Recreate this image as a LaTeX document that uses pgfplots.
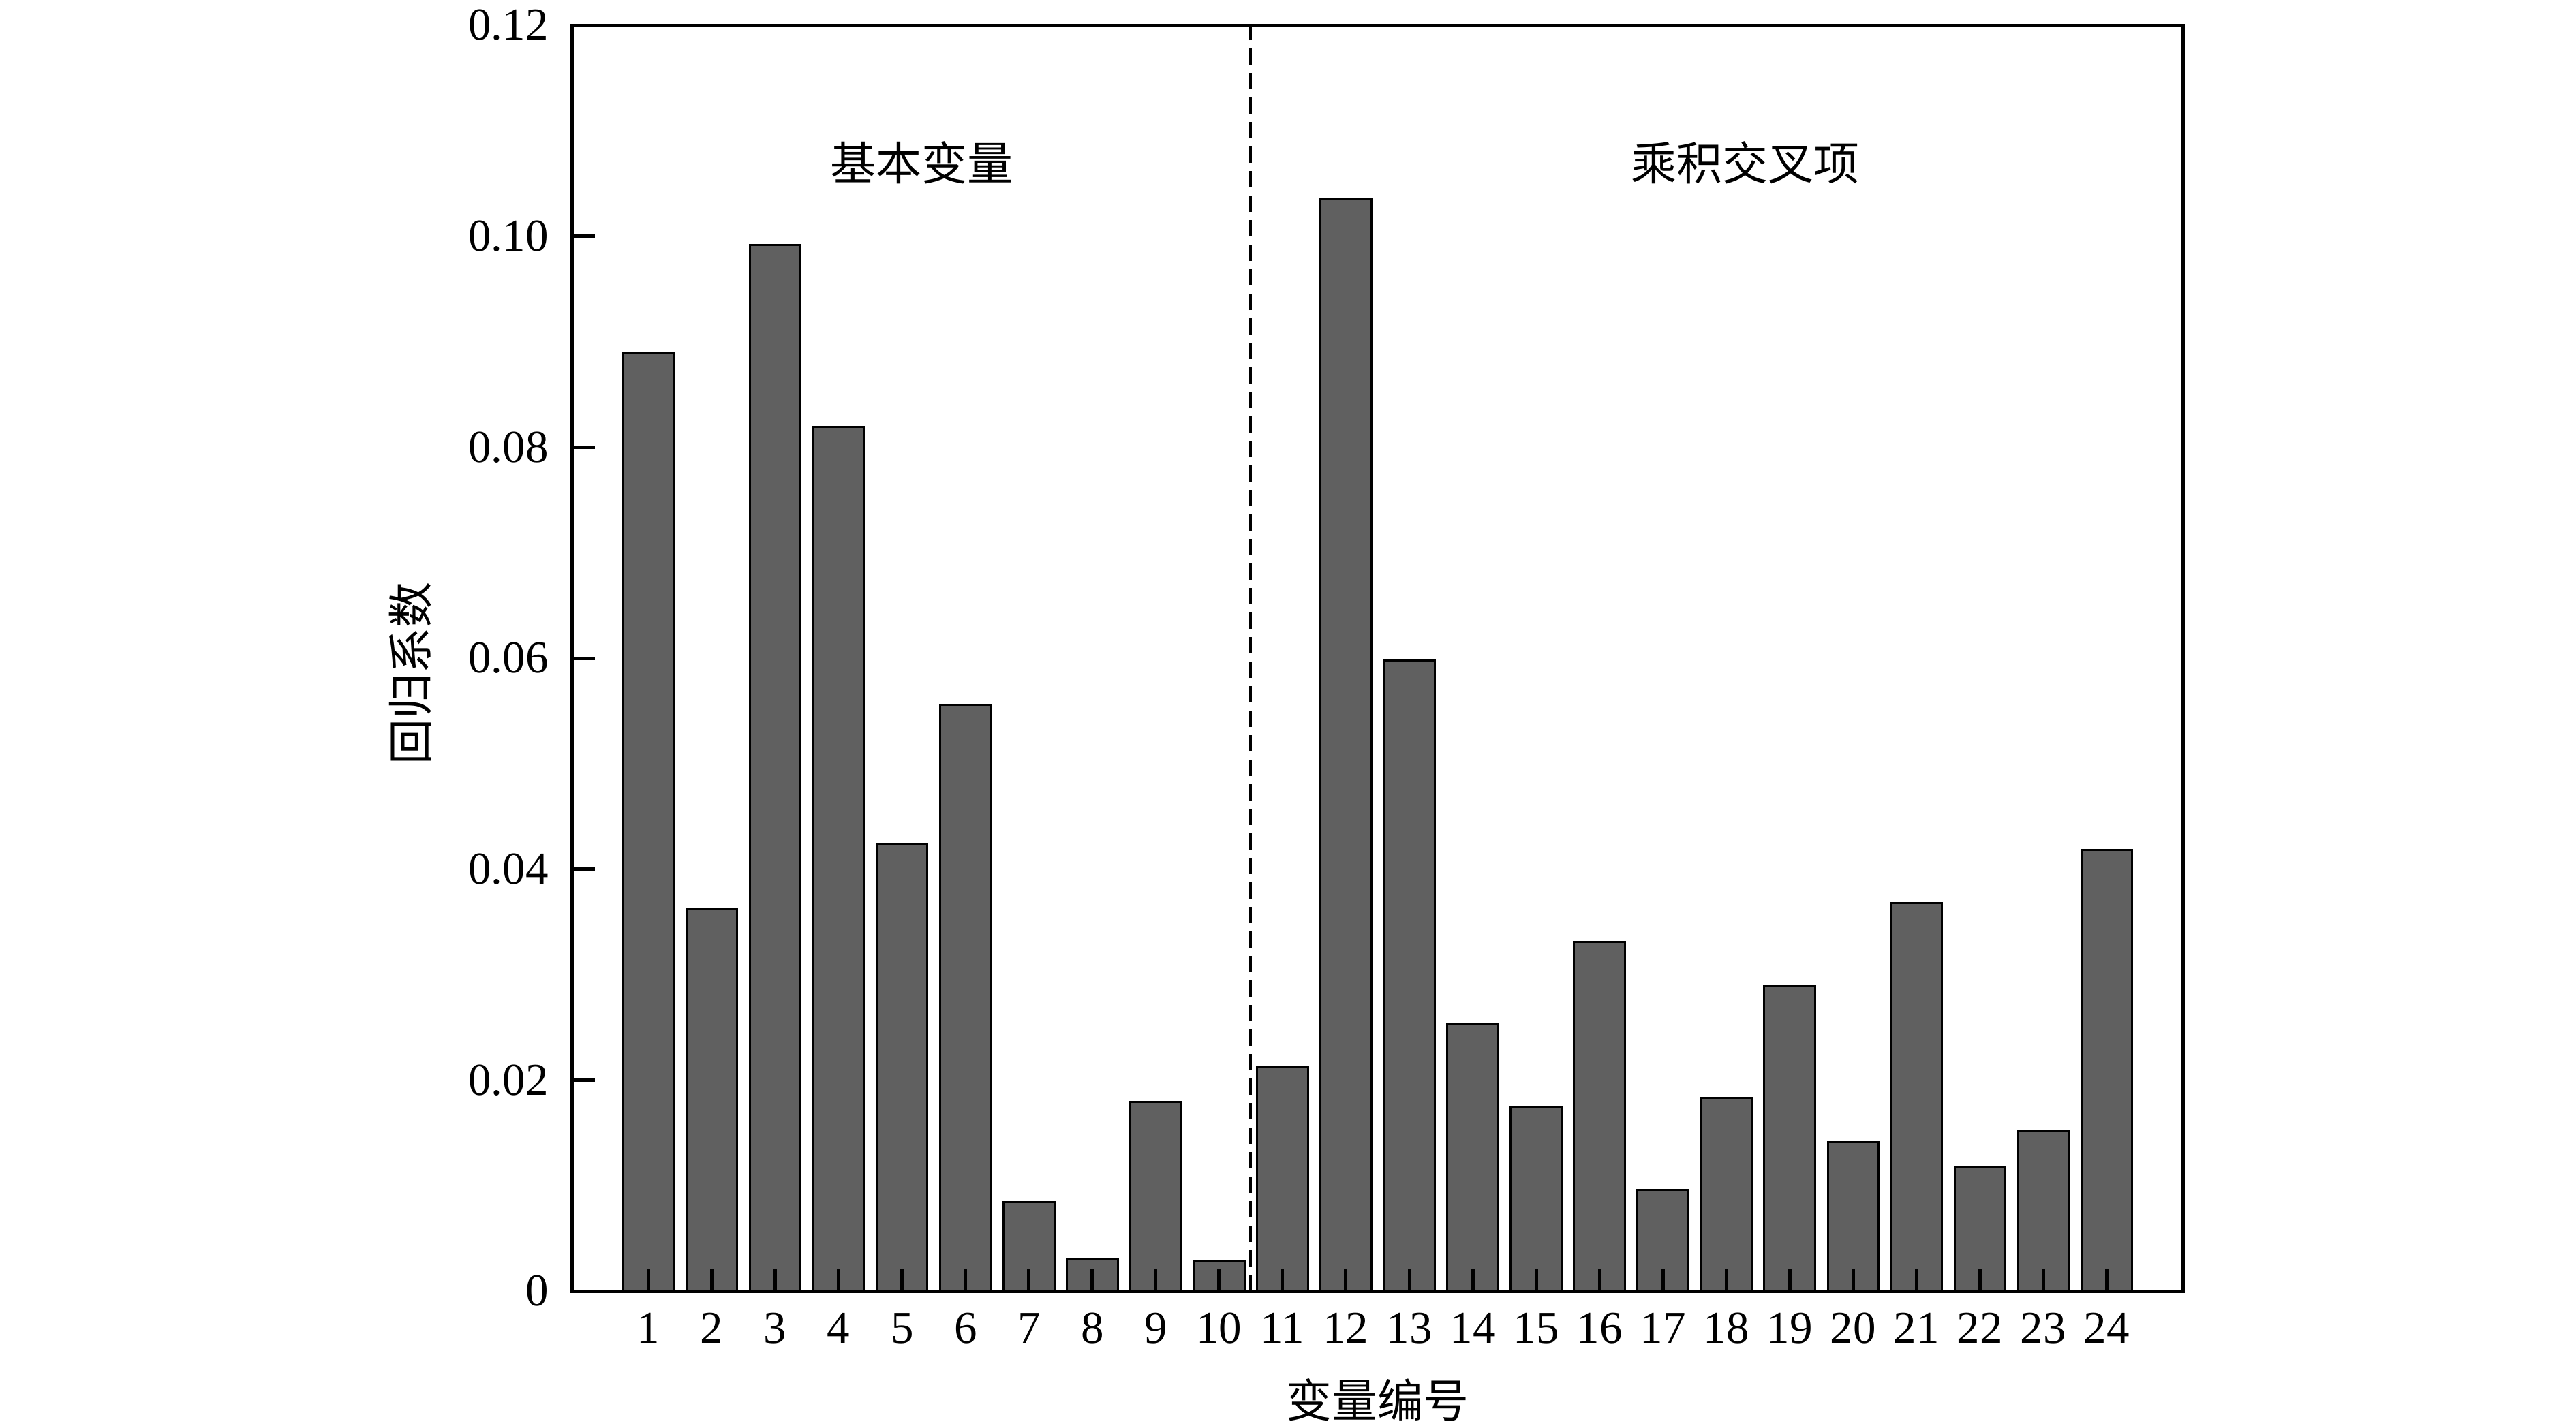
\documentclass[border=0pt]{standalone}
\usepackage{fontspec}
\setmainfont{Liberation Serif}
\newfontfamily\cjk{Noto Sans CJK SC}
\usepackage{pgfplots}
\pgfplotsset{compat=1.18}
\definecolor{barfill}{RGB}{96,96,96}
\begin{document}
\begin{tikzpicture}
\begin{axis}[name=ax, scale only axis, width=236.3pt, height=185.8pt,
  xmin=-0.2, xmax=25.2, ymin=0, ymax=0.12,
  ybar, bar width=0.8,
  xtick={1,...,24},
  ytick={0,0.02,0.04,0.06,0.08,0.10,0.12},
  yticklabels={0,0.02,0.04,0.06,0.08,0.10,0.12},
  tick align=inside, xtick pos=bottom, ytick pos=left,
  major tick length=3.3pt,
  tick style={black, line width=0.5pt},
  axis line style={line width=0.5pt},
  axis on top,
  font=\fontsize{6.7}{8}\selectfont,
  /pgf/number format/assume math mode=true,
  xticklabel style={yshift=0.3pt},
  xlabel={\cjk 变量编号}, ylabel={\cjk 回归系数},
  xlabel style={at={(axis description cs:0.5,-0.086)},anchor=center},
  ylabel style={at={(axis description cs:-0.1007,0.488)},anchor=center},
]
\addplot[fill=barfill, draw=black, line width=0.3pt] coordinates {
(1,0.0889) (2,0.0362) (3,0.0992) (4,0.0819) (5,0.0424) (6,0.0556)
(7,0.0084) (8,0.0030) (9,0.0179) (10,0.0029) (11,0.0213) (12,0.1035)
(13,0.0598) (14,0.0253) (15,0.0174) (16,0.0331) (17,0.0096) (18,0.0183)
(19,0.0289) (20,0.0141) (21,0.0368) (22,0.0118) (23,0.0152) (24,0.0418)
};
\draw[line width=0.4pt, dash pattern=on 2.4pt off 1.2pt] (axis cs:10.5,0) -- (axis cs:10.5,0.12);
\node[font=\cjk\fontsize{6.7}{8}\selectfont] at (axis cs:5.31,0.107) {基本变量};
\node[font=\cjk\fontsize{6.7}{8}\selectfont] at (axis cs:18.3,0.107) {乘积交叉项};
\end{axis}
\pgfresetboundingbox
\path (ax.south west) ++(-84pt,-20pt) rectangle ++(378pt,209.5pt);
\end{tikzpicture}
\end{document}
